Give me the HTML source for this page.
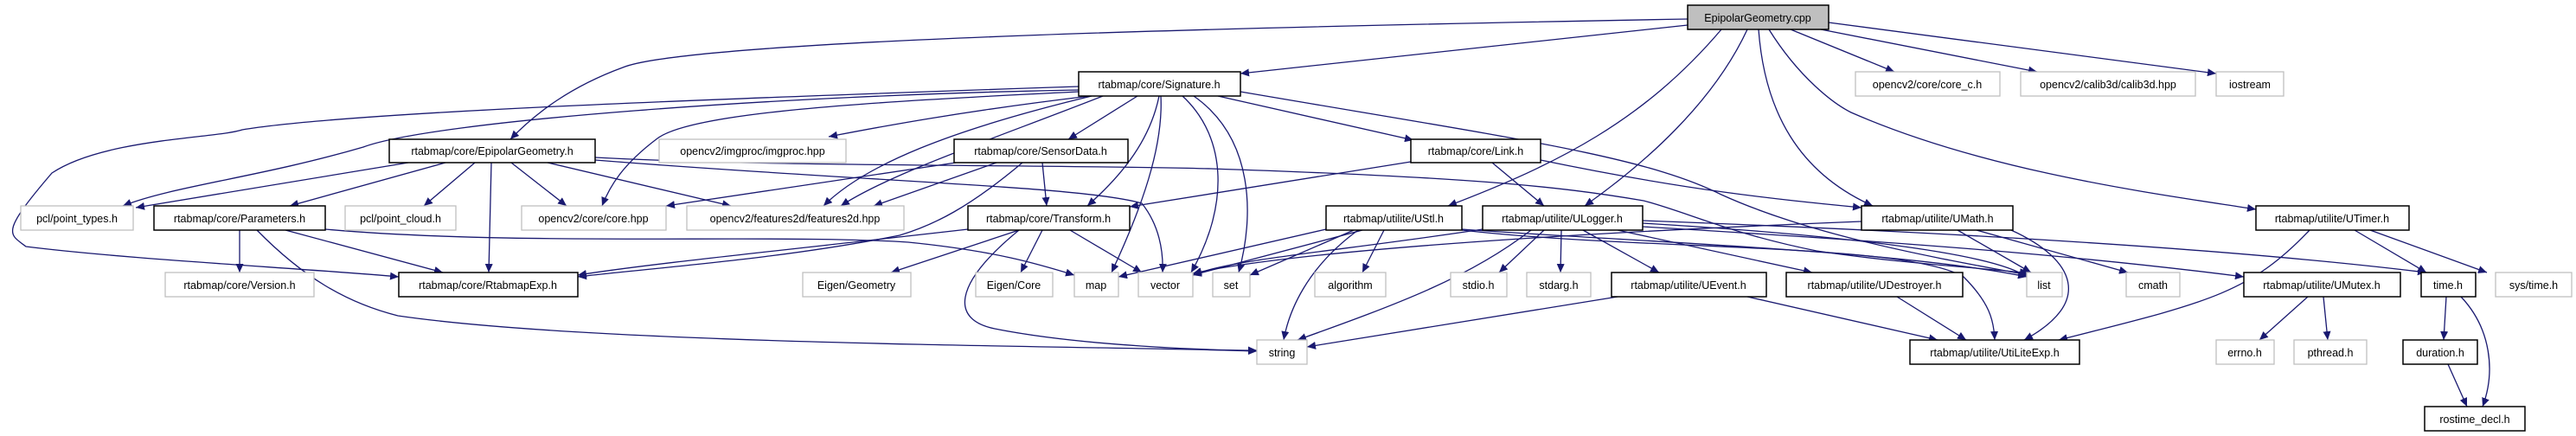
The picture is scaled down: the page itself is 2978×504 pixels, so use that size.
<!DOCTYPE html>
<html><head><meta charset="utf-8"><style>
html,body{margin:0;padding:0;background:#fff;}
svg{display:block;}
text{font-family:"Liberation Sans","DejaVu Sans",sans-serif;font-size:12.5px;fill:#000;text-anchor:middle;}
.e{fill:none;stroke:#191970;stroke-width:1.3;marker-end:url(#a);}
.b{fill:#fff;stroke:#000;stroke-width:1.5;}
.g{fill:#fff;stroke:#bfbfbf;stroke-width:1.3;}
</style></head><body>
<svg width="2978" height="504" viewBox="0 0 2978 504" xmlns="http://www.w3.org/2000/svg">
<defs><marker id="a" markerWidth="11" markerHeight="9" refX="10" refY="4.5" orient="auto" markerUnits="userSpaceOnUse"><path d="M0,0 L10,4.5 L0,9 Z" fill="#191970"/></marker></defs>
<!-- edges -->
<path class="e" d="M1951,22 C1500,30 800,45 720,78 C660,100 620,130 590,161"/>
<path class="e" d="M1951,29 L1434,85"/>
<path class="e" d="M1990,34 C1900,140 1800,190 1674,238"/>
<path class="e" d="M2020,34 C1980,120 1900,190 1832,238"/>
<path class="e" d="M2033,34 C2040,130 2080,200 2165,238"/>
<path class="e" d="M2045,34 C2080,90 2120,120 2140,130 C2300,200 2500,225 2608,242"/>
<path class="e" d="M2070,34 L2190,83"/>
<path class="e" d="M2105,34 L2355,83"/>
<path class="e" d="M2114,26 C2300,50 2450,70 2562,85"/>
<path class="e" d="M1247,100 C800,115 400,130 280,150 C250,160 120,160 60,200 C0,270 10,270 30,285 C150,300 350,310 461,320"/>
<path class="e" d="M1247,104 C900,110 500,140 420,170 C300,205 200,215 142,238"/>
<path class="e" d="M1247,106 C1000,118 800,130 760,160 C720,190 705,215 696,238"/>
<path class="e" d="M1260,111 C1100,130 1000,150 958,158"/>
<path class="e" d="M1262,111 C1100,150 1000,190 952,238"/>
<path class="e" d="M1275,111 C1150,160 1030,200 972,238"/>
<path class="e" d="M1315,111 L1235,161"/>
<path class="e" d="M1340,111 C1330,160 1300,200 1257,238"/>
<path class="e" d="M1342,111 C1345,170 1320,240 1285,315"/>
<path class="e" d="M1367,111 C1420,160 1420,240 1377,315"/>
<path class="e" d="M1380,111 C1450,160 1450,250 1432,315"/>
<path class="e" d="M1408,111 L1634,162"/>
<path class="e" d="M1434,106 C1750,160 1900,180 1990,225 C2100,275 2250,300 2345,318"/>
<path class="e" d="M472,188 L157,240"/>
<path class="e" d="M515,188 L335,238"/>
<path class="e" d="M549,188 L490,238"/>
<path class="e" d="M591,188 L655,238"/>
<path class="e" d="M633,188 L845,238"/>
<path class="e" d="M568,188 L565,315"/>
<path class="e" d="M688,185 C1000,210 1250,215 1320,235 C1340,260 1345,290 1344,315"/>
<path class="e" d="M688,182 C900,193 1200,190 1400,195 C1700,205 1800,215 1900,232 C1950,245 2000,270 2100,290 C2200,305 2300,310 2345,316"/>
<path class="e" d="M1105,188 L770,238"/>
<path class="e" d="M1152,188 L1010,238"/>
<path class="e" d="M1205,188 L1210,238"/>
<path class="e" d="M1182,188 C1120,240 1080,260 1040,272 C900,300 750,310 668,320"/>
<path class="e" d="M1119,265 C900,290 750,305 668,318"/>
<path class="e" d="M1178,266 L1030,315"/>
<path class="e" d="M1205,266 L1180,315"/>
<path class="e" d="M1237,266 L1320,315"/>
<path class="e" d="M1178,266 C1100,330 1100,370 1150,380 C1250,400 1400,405 1453,405"/>
<path class="e" d="M376,265 C600,285 900,270 1050,280 C1150,290 1200,305 1242,318"/>
<path class="e" d="M277,266 L277,315"/>
<path class="e" d="M330,266 L512,315"/>
<path class="e" d="M297,266 C350,320 400,350 460,365 C700,400 1300,400 1453,406"/>
<path class="e" d="M1631,187 L1306,239"/>
<path class="e" d="M1725,188 L1785,238"/>
<path class="e" d="M1781,185 C1950,220 2050,230 2152,240"/>
<path class="e" d="M1533,265 L1293,320"/>
<path class="e" d="M1575,266 L1379,318"/>
<path class="e" d="M1565,266 L1445,318"/>
<path class="e" d="M1600,266 L1575,315"/>
<path class="e" d="M1570,266 C1510,310 1490,360 1484,393"/>
<path class="e" d="M1690,265 C1900,280 2200,290 2343,320"/>
<path class="e" d="M1690,266 C1900,290 2200,280 2270,320 C2300,350 2305,370 2306,393"/>
<path class="e" d="M1714,265 C1550,290 1420,300 1379,318"/>
<path class="e" d="M1770,266 C1700,320 1620,350 1500,393"/>
<path class="e" d="M1785,266 L1733,315"/>
<path class="e" d="M1805,266 L1804,315"/>
<path class="e" d="M1830,266 L1918,315"/>
<path class="e" d="M1870,266 L2095,315"/>
<path class="e" d="M1899,262 C2200,280 2400,295 2594,320"/>
<path class="e" d="M1899,258 C2100,270 2300,290 2343,320"/>
<path class="e" d="M1899,255 C2300,270 2600,290 2805,315"/>
<path class="e" d="M2152,256 C1800,270 1500,290 1379,316"/>
<path class="e" d="M2263,266 L2348,315"/>
<path class="e" d="M2285,266 L2460,315"/>
<path class="e" d="M2325,266 C2400,300 2420,350 2340,393"/>
<path class="e" d="M2670,266 C2600,340 2550,350 2380,393"/>
<path class="e" d="M2722,266 L2805,315"/>
<path class="e" d="M2740,266 L2875,315"/>
<path class="e" d="M1870,343 L1511,401"/>
<path class="e" d="M2020,343 L2240,393"/>
<path class="e" d="M2193,343 L2273,393"/>
<path class="e" d="M2668,343 L2612,393"/>
<path class="e" d="M2686,343 L2691,393"/>
<path class="e" d="M2828,343 L2825,393"/>
<path class="e" d="M2845,343 C2880,380 2885,430 2870,470"/>
<path class="e" d="M2830,421 L2852,470"/>
<!-- nodes -->
<rect x="1951" y="6" width="163" height="28" fill="#bfbfbf" stroke="#000" stroke-width="1.5"/><text x="2032" y="25">EpipolarGeometry.cpp</text>
<rect class="b" x="1247" y="83" width="187" height="28"/><text x="1340" y="102">rtabmap/core/Signature.h</text>
<rect class="g" x="2145" y="83" width="167" height="28"/><text x="2228" y="102">opencv2/core/core_c.h</text>
<rect class="g" x="2336" y="83" width="202" height="28"/><text x="2437" y="102">opencv2/calib3d/calib3d.hpp</text>
<rect class="g" x="2562" y="83" width="78" height="28"/><text x="2601" y="102">iostream</text>
<rect class="b" x="450" y="161" width="238" height="27"/><text x="569" y="179">rtabmap/core/EpipolarGeometry.h</text>
<rect class="g" x="762" y="161" width="216" height="27"/><text x="870" y="179">opencv2/imgproc/imgproc.hpp</text>
<rect class="b" x="1103" y="161" width="201" height="27"/><text x="1203" y="179">rtabmap/core/SensorData.h</text>
<rect class="b" x="1631" y="161" width="150" height="27"/><text x="1706" y="179">rtabmap/core/Link.h</text>
<rect class="g" x="24" y="238" width="130" height="28"/><text x="89" y="257">pcl/point_types.h</text>
<rect class="b" x="178" y="238" width="198" height="28"/><text x="277" y="257">rtabmap/core/Parameters.h</text>
<rect class="g" x="399" y="238" width="128" height="28"/><text x="463" y="257">pcl/point_cloud.h</text>
<rect class="g" x="603" y="238" width="167" height="28"/><text x="686" y="257">opencv2/core/core.hpp</text>
<rect class="g" x="794" y="238" width="251" height="28"/><text x="919" y="257">opencv2/features2d/features2d.hpp</text>
<rect class="b" x="1119" y="238" width="187" height="28"/><text x="1212" y="257">rtabmap/core/Transform.h</text>
<rect class="b" x="1533" y="238" width="157" height="28"/><text x="1611" y="257">rtabmap/utilite/UStl.h</text>
<rect class="b" x="1714" y="238" width="185" height="28"/><text x="1806" y="257">rtabmap/utilite/ULogger.h</text>
<rect class="b" x="2152" y="238" width="175" height="28"/><text x="2240" y="257">rtabmap/utilite/UMath.h</text>
<rect class="b" x="2608" y="238" width="177" height="28"/><text x="2696" y="257">rtabmap/utilite/UTimer.h</text>
<rect class="g" x="191" y="315" width="172" height="28"/><text x="277" y="334">rtabmap/core/Version.h</text>
<rect class="b" x="461" y="315" width="207" height="28"/><text x="564" y="334">rtabmap/core/RtabmapExp.h</text>
<rect class="g" x="928" y="315" width="125" height="28"/><text x="990" y="334">Eigen/Geometry</text>
<rect class="g" x="1128" y="315" width="89" height="28"/><text x="1172" y="334">Eigen/Core</text>
<rect class="g" x="1242" y="315" width="51" height="28"/><text x="1267" y="334">map</text>
<rect class="g" x="1316" y="315" width="63" height="28"/><text x="1347" y="334">vector</text>
<rect class="g" x="1402" y="315" width="43" height="28"/><text x="1423" y="334">set</text>
<rect class="g" x="1520" y="315" width="82" height="28"/><text x="1561" y="334">algorithm</text>
<rect class="g" x="1677" y="315" width="65" height="28"/><text x="1709" y="334">stdio.h</text>
<rect class="g" x="1765" y="315" width="74" height="28"/><text x="1802" y="334">stdarg.h</text>
<rect class="b" x="1863" y="315" width="179" height="28"/><text x="1952" y="334">rtabmap/utilite/UEvent.h</text>
<rect class="b" x="2065" y="315" width="204" height="28"/><text x="2167" y="334">rtabmap/utilite/UDestroyer.h</text>
<rect class="g" x="2343" y="315" width="41" height="28"/><text x="2363" y="334">list</text>
<rect class="g" x="2458" y="315" width="62" height="28"/><text x="2489" y="334">cmath</text>
<rect class="b" x="2594" y="315" width="181" height="28"/><text x="2684" y="334">rtabmap/utilite/UMutex.h</text>
<rect class="b" x="2799" y="315" width="63" height="28"/><text x="2830" y="334">time.h</text>
<rect class="g" x="2885" y="315" width="88" height="28"/><text x="2929" y="334">sys/time.h</text>
<rect class="g" x="1453" y="393" width="58" height="28"/><text x="1482" y="412">string</text>
<rect class="b" x="2208" y="393" width="196" height="28"/><text x="2306" y="412">rtabmap/utilite/UtiLiteExp.h</text>
<rect class="g" x="2562" y="393" width="67" height="28"/><text x="2595" y="412">errno.h</text>
<rect class="g" x="2652" y="393" width="84" height="28"/><text x="2694" y="412">pthread.h</text>
<rect class="b" x="2778" y="393" width="86" height="28"/><text x="2821" y="412">duration.h</text>
<rect class="b" x="2803" y="470" width="116" height="28"/><text x="2861" y="489">rostime_decl.h</text>
</svg>
</body></html>
